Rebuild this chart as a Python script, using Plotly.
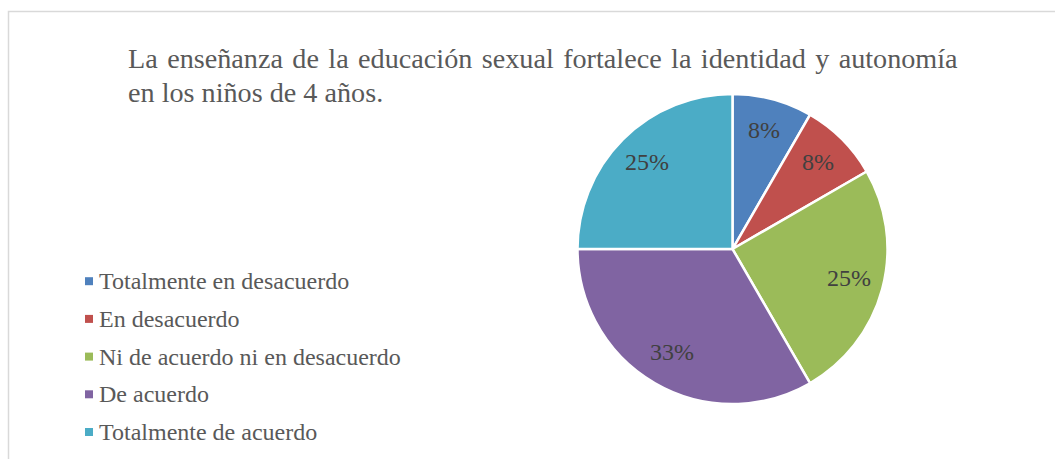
import math
import plotly.graph_objects as go

# --- data ---
titulo = ["La enseñanza de la educación sexual fortalece la identidad y autonomía",
          "en los niños de 4 años."]
categorias = ["Totalmente en desacuerdo", "En desacuerdo", "Ni de acuerdo ni en desacuerdo",
              "De acuerdo", "Totalmente de acuerdo"]
respuestas = [1, 1, 3, 4, 3]  # 8%, 8%, 25%, 33%, 25%
colores = ["#4F81BD", "#C0504D", "#9BBB59", "#8064A2", "#4BACC6"]

W, H = 1055, 459
FONT = "Liberation Serif"

# pie geometry (pixels)
cx, cy, R = 732.5, 249, 155

fig = go.Figure()

fig.add_trace(go.Pie(
    labels=categorias,
    values=respuestas,
    sort=False,
    direction="clockwise",
    rotation=0,
    marker=dict(colors=colores, line=dict(color="white", width=2.5)),
    textinfo="none",
    domain=dict(x=[(cx - R) / W, (cx + R) / W], y=[1 - (cy + R) / H, 1 - (cy - R) / H]),
    showlegend=False,
    hoverinfo="label+percent",
))

# percentage labels, placed like Excel does (about 0.78 of the radius)
total = sum(respuestas)
acum = 0
for v in respuestas:
    ang = math.radians(90 - 360 * (acum + v / 2) / total)
    acum += v
    rr = 0.78 * R
    fig.add_annotation(text=f"{round(100 * v / total)}%",
                       x=(cx + rr * math.cos(ang)) / W, y=1 - (cy - 2 - rr * math.sin(ang)) / H,
                       xref="paper", yref="paper", xanchor="center", yanchor="middle",
                       showarrow=False,
                       font=dict(family=FONT, size=24, color="#404040"))

# title, line 1 widened a bit to mimic the justified text
linea1 = titulo[0].replace(" ", " \u200a")
fig.add_annotation(text=linea1, x=126 / W, y=1 - 41 / H, xref="paper", yref="paper",
                   xanchor="left", yanchor="top", showarrow=False,
                   font=dict(family=FONT, size=28.2, color="#595959"))
fig.add_annotation(text=titulo[1], x=126 / W, y=1 - 75 / H, xref="paper", yref="paper",
                   xanchor="left", yanchor="top", showarrow=False,
                   font=dict(family=FONT, size=28.2, color="#595959"))

# legend drawn by hand so the rows can be spaced like the original
fila0, paso = 281.2, 37.7
for i, (cat, col) in enumerate(zip(categorias, colores)):
    yc = fila0 + i * paso
    fig.add_shape(type="rect", xref="paper", yref="paper",
                  x0=85 / W, x1=93 / W, y0=1 - (yc + 4) / H, y1=1 - (yc - 4) / H,
                  fillcolor=col, line=dict(width=0))
    fig.add_annotation(text=cat, x=97 / W, y=1 - yc / H, xref="paper", yref="paper",
                       xanchor="left", yanchor="middle", showarrow=False,
                       font=dict(family=FONT, size=24, color="#595959"))

# light frame around the chart area
fig.add_shape(type="rect", xref="paper", yref="paper",
              x0=8.5 / W, x1=1.01, y0=-0.05, y1=1 - 11.5 / H,
              line=dict(color="#D9D9D9", width=1.5), fillcolor="rgba(0,0,0,0)")

fig.update_layout(
    width=W, height=H,
    margin=dict(l=0, r=0, t=0, b=0),
    paper_bgcolor="white",
    plot_bgcolor="white",
    showlegend=False,
)

# drop the page's default 8px body margin so the figure sits at the window corner
fig.write_html("out.html", config={"displayModeBar": False},
               post_script="document.body.style.margin='0';")
